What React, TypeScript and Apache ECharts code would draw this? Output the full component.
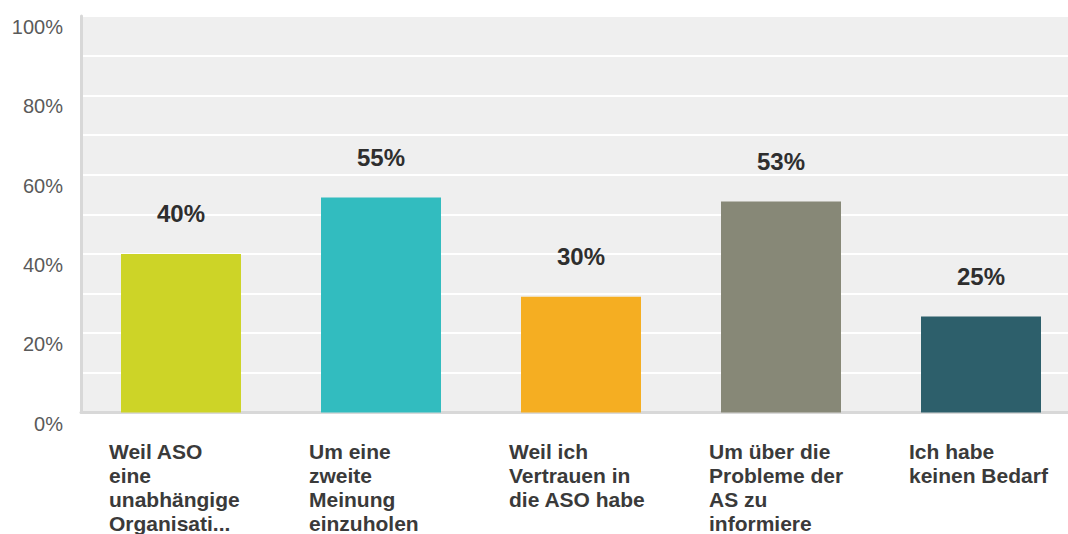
import React, { useEffect, useRef } from "react";
import * as echarts from "echarts";

const categories = [
  "Weil ASO\neine\nunabhängige\nOrganisati...",
  "Um eine\nzweite\nMeinung\neinzuholen",
  "Weil ich\nVertrauen in\ndie ASO habe",
  "Um über die\nProbleme der\nAS zu\ninformiere",
  "Ich habe\nkeinen Bedarf",
];
const values = [40, 54.2, 29.2, 53.2, 24.2];
const valueLabels = ["40%", "55%", "30%", "53%", "25%"];
const colors = ["#cdd427", "#32bcbf", "#f5ae22", "#878877", "#2d5f6b"];
const yTicks = [0, 20, 40, 60, 80, 100];

export default function App() {
  const ref = useRef<HTMLDivElement>(null);
  useEffect(() => {
    if (!ref.current) return;
    const chart = echarts.init(ref.current, null, { renderer: "svg" });
    chart.setOption({
      animation: false,
      backgroundColor: "#ffffff",
      grid: {
        left: 81,
        top: 16,
        right: 19,
        bottom: 118,
        show: true,
        backgroundColor: "#efefef",
        borderWidth: 0,
      },
      xAxis: {
        type: "category",
        data: categories,
        axisLine: { show: true, lineStyle: { color: "#d8d8d8", width: 3 } },
        axisTick: { show: false },
        axisLabel: {
          interval: 0,
          margin: 27,
          align: "center",
          verticalAlign: "top",
          formatter: (v: string) =>
            v
              .split("\n")
              .map((l) => "{a|" + l + "}")
              .join("\n"),
          rich: {
            a: {
              width: 144,
              align: "left",
              fontSize: 21,
              lineHeight: 24,
              fontWeight: "bold",
              color: "#3a3a3a",
              fontFamily: "Liberation Sans, Arial, sans-serif",
            },
          },
        },
      },
      yAxis: {
        type: "value",
        min: 0,
        max: 100,
        interval: 10,
        axisLine: { show: true, lineStyle: { color: "#d8d8d8", width: 3 } },
        axisTick: { show: false },
        splitLine: { show: true, lineStyle: { color: "#ffffff", width: 2 } },
        axisLabel: {
          margin: 18,
          fontSize: 20,
          lineHeight: 22,
          verticalAlign: "top",
          color: "#5a5a5a",
          fontFamily: "Liberation Sans, Arial, sans-serif",
          formatter: (v: number) => (yTicks.indexOf(v) >= 0 ? v + "%" : ""),
        },
      },
      series: [
        {
          type: "bar",
          barWidth: 120,
          data: values.map((v, i) => ({ value: v, itemStyle: { color: colors[i] } })),
          label: {
            show: true,
            position: "top",
            distance: 28,
            fontSize: 24,
            fontWeight: "bold",
            color: "#2e2e2e",
            fontFamily: "Liberation Sans, Arial, sans-serif",
            formatter: (p: any) => valueLabels[p.dataIndex],
          },
        },
      ],
    });
    return () => chart.dispose();
  }, []);
  return (
    <div
      ref={ref}
      style={{ position: "fixed", left: 0, top: 0, width: 1100, height: 534 }}
    />
  );
}
